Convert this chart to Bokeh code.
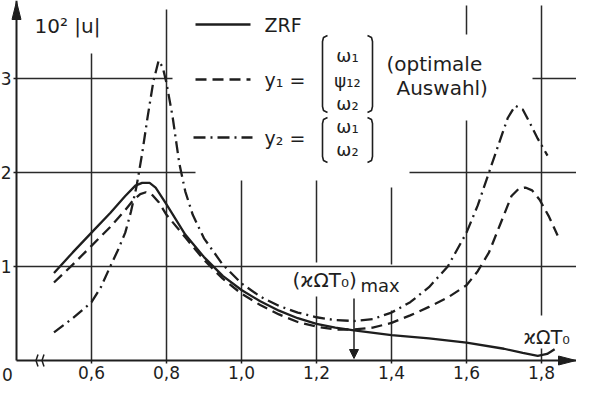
from bokeh.plotting import figure
from bokeh.models import Range1d, Arrow, NormalHead, Label, FixedTicker
from bokeh.embed import file_html
from bokeh.resources import INLINE

# ---------------- data ----------------
x_ticks = [0.6, 0.8, 1.0, 1.2, 1.4, 1.6, 1.8]
x_tick_labels = ["0,6", "0,8", "1,0", "1,2", "1,4", "1,6", "1,8"]
y_ticks = [1, 2, 3]
y_tick_labels = ["1", "2", "3"]

zrf_x = [0.50, 0.55, 0.60, 0.65, 0.69, 0.717, 0.735, 0.755, 0.771, 0.80, 0.85, 0.90, 0.95, 1.00,
         1.05, 1.10, 1.15, 1.20, 1.25, 1.30, 1.40, 1.50, 1.60, 1.70, 1.75, 1.79, 1.815, 1.835]
zrf_y = [0.93, 1.15, 1.36, 1.57, 1.75, 1.86, 1.89, 1.89, 1.84, 1.66, 1.34, 1.10, 0.90, 0.75,
         0.63, 0.53, 0.45, 0.39, 0.35, 0.32, 0.27, 0.235, 0.19, 0.125, 0.08, 0.05, 0.07, 0.12]

y1_x = [0.50, 0.55, 0.60, 0.65, 0.69, 0.71, 0.73, 0.745, 0.76, 0.78, 0.80, 0.85, 0.90, 0.95, 1.00,
        1.05, 1.10, 1.15, 1.20, 1.25, 1.30, 1.35, 1.40, 1.45, 1.50, 1.55, 1.60, 1.63, 1.66, 1.69,
        1.72, 1.74, 1.757, 1.775, 1.795, 1.82, 1.843]
y1_y = [0.83, 1.02, 1.22, 1.42, 1.60, 1.70, 1.77, 1.79, 1.77, 1.68, 1.55, 1.31, 1.07, 0.87, 0.71,
        0.59, 0.49, 0.41, 0.36, 0.33, 0.33, 0.35, 0.40, 0.48, 0.57, 0.67, 0.80, 0.95, 1.15, 1.45,
        1.75, 1.83, 1.84, 1.81, 1.71, 1.53, 1.33]

y2_x = [0.50, 0.55, 0.60, 0.625, 0.65, 0.67, 0.69, 0.705, 0.72, 0.735, 0.75, 0.765, 0.779, 0.79,
        0.80, 0.816, 0.834, 0.85, 0.87, 0.90, 0.95, 1.00, 1.05, 1.10, 1.15, 1.20, 1.25, 1.30, 1.35,
        1.40, 1.45, 1.50, 1.55, 1.60, 1.63, 1.66, 1.69, 1.71, 1.73, 1.75, 1.77, 1.79, 1.816]
y2_y = [0.30, 0.45, 0.62, 0.78, 1.00, 1.17, 1.36, 1.58, 1.85, 2.20, 2.60, 2.97, 3.19, 3.12,
        2.95, 2.60, 2.10, 1.80, 1.55, 1.30, 1.02, 0.82, 0.68, 0.58, 0.51, 0.46, 0.43, 0.42, 0.44,
        0.51, 0.62, 0.78, 1.00, 1.36, 1.65, 2.00, 2.35, 2.58, 2.71, 2.67, 2.52, 2.36, 2.18]

# ---------------- layout helpers (reference pixel -> data) ----------------
X0_PX, PX_PER_X = 24.0, 375.0     # x = 0.4 sits on the vertical axis
Y0_PX, PX_PER_Y = 368.0, 94.0


def X(px):
    return 0.4 + (px - X0_PX) / PX_PER_X


def Y(py):
    return (Y0_PX - py) / PX_PER_Y


INK = "#1e1e1e"
GRID = "#2a2a2a"
FONT = "DejaVu Sans"

p = figure(width=576, height=385, output_backend="svg", toolbar_location=None,
           x_range=Range1d(X(8), X(584)), y_range=Range1d(Y(393), Y(8)),
           min_border_left=0, min_border_right=0, min_border_top=0, min_border_bottom=0)
p.xgrid.visible = False
p.ygrid.visible = False
p.outline_line_color = None
p.background_fill_color = "white"

p.xaxis.fixed_location = 0
p.yaxis.fixed_location = 0.4
p.xaxis.bounds = (0.4, X(584))
p.yaxis.bounds = (0, Y(8))

for ax in (p.xaxis[0], p.yaxis[0]):
    ax.axis_line_width = 2
    ax.axis_line_color = INK
    ax.major_tick_line_color = INK
    ax.major_tick_line_width = 1.5
    ax.major_tick_in = 0
    ax.major_tick_out = 3
    ax.minor_tick_line_color = None
    ax.major_label_text_font = FONT
    ax.major_label_text_font_size = "17px"
    ax.major_label_text_color = INK

p.xaxis.major_label_standoff = 2
p.yaxis.major_label_standoff = 2
p.xaxis.ticker = FixedTicker(ticks=x_ticks)
p.xaxis.major_label_overrides = dict(zip(x_ticks, x_tick_labels))
p.yaxis.ticker = FixedTicker(ticks=y_ticks)
p.yaxis.major_label_overrides = dict(zip(y_ticks, y_tick_labels))

# ---------------- partial hand-drawn grid ----------------
h_y = [1, 2, 2, 3, 3]
h_x0 = [0.4, 0.4, X(417), 0.4, X(540)]
h_x1 = [X(592), X(203), X(592), X(180), X(592)]
p.segment(x0=h_x0, x1=h_x1, y0=h_y, y1=h_y, line_color=GRID, line_width=1.5)

v_x = [0.6, 0.8, 1.0, 1.2, 1.2, 1.4, 1.4, 1.6, 1.6, 1.8, 1.8]
v_y0 = [0, 0, 0, 0, Y(270), 0, Y(272), 0, Y(42), Y(323), 0]
v_y1 = [Y(61), Y(17), Y(188), Y(304), Y(188), Y(318), Y(195), Y(128), Y(13), Y(13), Y(356)]
p.segment(x0=v_x, x1=v_x, y0=v_y0, y1=v_y1, line_color=GRID, line_width=1.5)

# ---------------- curves ----------------
p.line(zrf_x, zrf_y, line_color=INK, line_width=2.3, line_join="round")
p.line(y1_x, y1_y, line_color=INK, line_width=2.3, line_dash="11 6")
p.line(y2_x, y2_y, line_color=INK, line_width=2.3, line_dash="12 5 2 5")

# ---------------- axis arrow heads and break ----------------
p.patch([0.4, X(19.5), X(28.5)], [Y(9), Y(27), Y(27)], fill_color=INK, line_color=INK)
p.patch([X(583.5), X(566), X(566)], [0, Y(363.5), Y(372.5)], fill_color=INK, line_color=INK)
for bx in (44, 50):
    p.line([X(bx + 1.5), X(bx - 0.5), X(bx + 1.5)], [Y(362), Y(368), Y(374)],
           line_color=INK, line_width=1.5)

# (xOmegaT0)max marker
p.add_layout(Arrow(x_start=1.3, y_start=Y(306), x_end=1.3, y_end=Y(366), line_width=1.5,
                   line_color=INK, end=NormalHead(size=9, fill_color=INK, line_color=INK)))

# ---------------- legend ----------------
p.segment(x0=[X(203)], x1=[X(258)], y0=[Y(32)], y1=[Y(32)], line_color=INK, line_width=2.3)
p.segment(x0=[X(203)], x1=[X(258)], y0=[Y(87)], y1=[Y(87)], line_color=INK, line_width=2.3,
          line_dash="11 6")
p.segment(x0=[X(201)], x1=[X(260)], y0=[Y(145)], y1=[Y(145)], line_color=INK, line_width=2.3,
          line_dash="12 5 2 5")


def bracket(px, top, bot, side):
    d = 5 * side
    xs = [X(px + d), X(px + 1 * side), X(px), X(px), X(px + 1 * side), X(px + d)]
    ys = [Y(top), Y(top + 2), Y(top + 6), Y(bot - 6), Y(bot - 2), Y(bot)]
    p.line(xs, ys, line_color=INK, line_width=1.6)


bracket(330, 43, 120, 1)
bracket(380, 43, 120, -1)
bracket(330, 125, 170, 1)
bracket(380, 125, 170, -1)


def label(px, py, text, size="18px", align="left"):
    p.add_layout(Label(x=X(px), y=Y(py), text=text, text_font=FONT, text_font_size=size,
                       text_color=INK, text_align=align, text_baseline="middle"))


label(42, 33, "10² |u|", "20px")
label(272, 32, "ZRF", "19px")
label(272, 87, "y₁ =", "19px")
label(355, 63, "ω₁", "18px", "center")
label(355, 88, "ψ₁₂", "18px", "center")
label(355, 111, "ω₂", "18px", "center")
label(394, 71, "(optimale", "20px")
label(404, 95, "Auswahl)", "20px")
label(272, 145, "y₂ =", "19px")
label(355, 134, "ω₁", "18px", "center")
label(355, 157, "ω₂", "18px", "center")
label(300, 287, "(ϰΩT₀)", "20px")
label(368, 293, "max", "18px")
label(531, 344, "ϰΩT₀", "19px")
label(15, 382, "0", "17px", "center")

open("out.html", "w").write(file_html(p, INLINE))
